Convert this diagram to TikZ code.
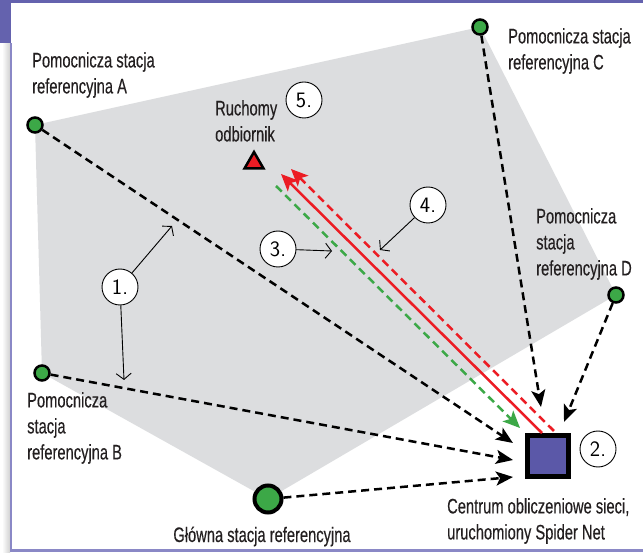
\documentclass[tikz,border=0pt]{standalone}
\usepackage{fontspec}
\newfontfamily\labelfont{Liberation Sans}[FakeStretch=0.70,FakeBold=0.3]
\usetikzlibrary{arrows.meta,shapes.geometric}
\definecolor{framepurple}{HTML}{6462AE}
\definecolor{framelav}{HTML}{8A88C6}
\definecolor{polygrey}{HTML}{DCDDDF}
\definecolor{stgreen}{HTML}{3CA847}
\definecolor{stred}{HTML}{EC1C24}
\definecolor{sqfill}{HTML}{5B58A8}
\definecolor{textblack}{HTML}{231F20}
\begin{document}
\begin{tikzpicture}[x=1pt,y=-1pt,
  station/.style={circle,fill=stgreen,draw=black,line width=2.5pt,minimum size=15pt,inner sep=0pt},
  mainstation/.style={circle,fill=stgreen,draw=black,line width=4pt,minimum size=27pt,inner sep=0pt},
  numcircle/.style={circle,fill=white,draw=black,line width=0.9pt,minimum size=36pt,inner sep=0pt,font=\sffamily\fontsize{22}{22}\selectfont},
  lbl/.style={inner sep=0pt,align=left,text=textblack,font=\labelfont\fontsize{21}{26}\selectfont},
  blackdash/.style={line width=2.5pt,dash pattern=on 8pt off 5pt,-{Stealth[length=17pt,width=14pt,inset=4pt]}},
  thinarrow/.style={line width=0.9pt,-{Straight Barb[length=6pt,width=15pt,line width=0.9pt]}},
  redtip/.style={{Stealth[length=17pt,width=15pt,inset=4pt]}-},
]
\useasboundingbox (0,0) rectangle (643,553);
\fill[white] (0,0) rectangle (643,553);
% frame
\shade[left color=white,right color=black!18] (2,43) rectangle (10,553);
\fill[framepurple] (0,0) rectangle (643,3);
\fill[framepurple] (0,0) rectangle (11,43);
\fill[framelav] (10,43) rectangle (12,552);
\fill[framelav] (10,549) rectangle (643,552);

% station positions
\coordinate (pA) at (35,125);
\coordinate (pC) at (480,27);
\coordinate (pD) at (616,295);
\coordinate (pG) at (268,499);
\coordinate (pB) at (42,373);

% coverage polygon
\fill[polygrey] (pA) -- (pC) -- (pD) -- (pG) -- (pB) -- cycle;

% stations
\node[station] (A) at (pA) {};
\node[station] (C) at (pC) {};
\node[station] (D) at (pD) {};
\node[station] (B) at (pB) {};
\node[mainstation] (G) at (pG) {};

% computing centre
\node[rectangle,fill=sqfill,draw=black,line width=5pt,minimum size=41pt,inner sep=0pt] (sq) at (548,456) {};

% rover
\node[regular polygon,regular polygon sides=3,fill=stred,draw=black,line width=2.5pt,minimum size=22pt,inner sep=0pt] (rov) at (254,163) {};

% arrow end points
\coordinate (tA) at (513,443);
\coordinate (tB) at (513,460);
\coordinate (tG) at (513,477);
\coordinate (tC) at (541,407);
\coordinate (tD) at (564,422);

\draw[blackdash] (A) -- (tA);
\draw[blackdash] (B) -- (tB);
\draw[blackdash] (G) -- (tG);
\draw[blackdash] (C) -- (tC);
\draw[blackdash] (D) -- (tD);

% correction links
\coordinate (rsTip) at (281,174);
\coordinate (rsBase) at (542,433);
\coordinate (rdTip) at (291,169);
\coordinate (rdBase) at (556,433);
\coordinate (gTail) at (276,186);
\coordinate (gTip) at (520,428);
\draw[stgreen,line width=2.5pt,dash pattern=on 8pt off 5pt,-{Stealth[length=17pt,width=15pt,inset=4pt]}] (gTail) -- (gTip);
\draw[stred,line width=2.5pt,dash pattern=on 8pt off 5pt,redtip] (rdTip) -- (rdBase);
\draw[stred,line width=2.5pt,redtip] (rsTip) -- (rsBase);

% numbered circles
\node[numcircle] (n1) at (120,287) {1.};
\node[numcircle] (n2) at (598,449) {2.};
\node[numcircle] (n3) at (278,249) {3.};
\node[numcircle] (n4) at (428,205) {4.};
\node[numcircle] (n5) at (304,100) {5.};

\coordinate (t1a) at (172,226);
\coordinate (t1b) at (124,380);
\coordinate (t3) at (332,251);
\coordinate (t4) at (380,250);
\draw[thinarrow] (n1) -- (t1a);
\draw[thinarrow] (n1) -- (t1b);
\draw[thinarrow] (n3) -- (t3);
\draw[thinarrow] (n4) -- (t4);

% labels
\node[lbl,anchor=north west] (lA) at (32,52) {Pomocnicza stacja\\referencyjna A};
\node[lbl,anchor=north west] (lC) at (508,28) {Pomocnicza stacja\\referencyjna C};
\node[lbl,anchor=north west] (lD) at (536,208) {Pomocnicza\\stacja\\referencyjna D};
\node[lbl,anchor=north west] (lB) at (27,392) {Pomocnicza\\stacja\\referencyjna B};
\node[lbl,anchor=north west] (lR) at (215,100) {Ruchomy\\odbiornik};
\node[lbl,anchor=north west] (lS) at (447,498) {Centrum obliczeniowe sieci,\\uruchomiony Spider Net};
\node[lbl,anchor=base] (lG) at (262,542) {Główna stacja referencyjna};
\end{tikzpicture}
\end{document}
